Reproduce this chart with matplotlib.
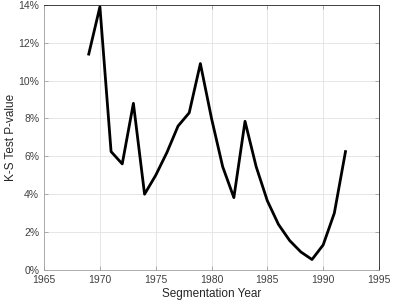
import numpy as np
import matplotlib.pyplot as plt
from matplotlib.ticker import FuncFormatter

years = list(range(1969, 1993))
pvalue = [11.4, 13.9, 6.25, 5.6, 8.8, 4.0, 5.0, 6.2, 7.6, 8.3, 10.9, 8.0,
          5.45, 3.82, 7.85, 5.45, 3.65, 2.4, 1.55, 0.95, 0.55, 1.32, 3.0, 6.25]

plt.rcParams['font.family'] = ['Liberation Sans', 'DejaVu Sans']

fig = plt.figure(figsize=(4.16, 3.05), dpi=100)
ax = fig.add_axes([0.106, 0.115, 0.805, 0.869])

ax.plot(years, pvalue, color='black', linewidth=2)

ax.set_xlim(1965, 1995)
ax.set_ylim(0, 14)
ax.set_xticks(range(1965, 1996, 5))
ax.set_yticks(range(0, 15, 2))
ax.yaxis.set_major_formatter(FuncFormatter(lambda v, p: "%d%%" % v))
ax.grid(True, color='#e6e6e6', linewidth=0.7)
ax.set_axisbelow(True)

for s in ax.spines.values():
    s.set_color('#262626')
    s.set_linewidth(0.6)
ax.spines['left'].set_color('#a0a0a0')
ax.spines['bottom'].set_color('#a0a0a0')
ax.tick_params(direction='in', length=3, width=0.6, labelsize=7.5,
               colors='#404040', top=True, right=True)
ax.tick_params(axis='both', color='#a0a0a0')

ax.set_xlabel("Segmentation Year", fontsize=8.5, color='#262626', labelpad=2)
ax.set_ylabel("K-S Test P-value", fontsize=8.5, color='#262626', labelpad=1)

fig.savefig("out.png", dpi=100)
